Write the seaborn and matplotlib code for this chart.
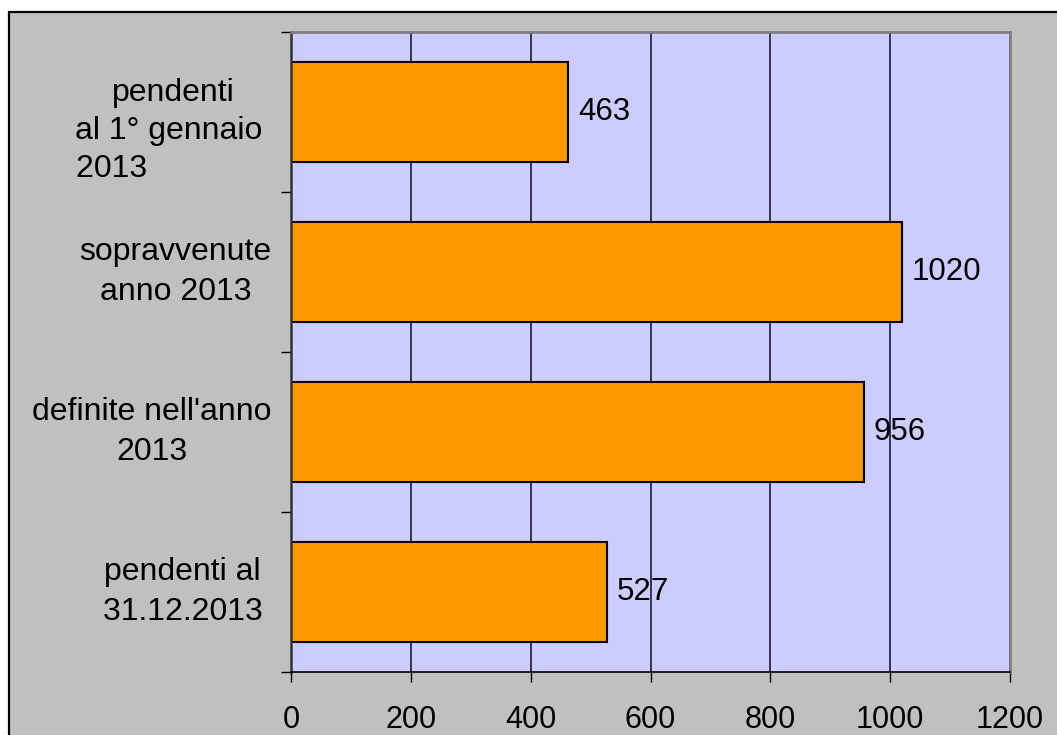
import matplotlib
matplotlib.use("Agg")
import matplotlib.pyplot as plt
from matplotlib.patches import Rectangle
from matplotlib.ticker import FixedLocator
import seaborn as sns
import pandas as pd

# Tick labels (line breaks and spaces set the wrapped layout of each label)
categories = [
    "\npendenti\nal 1° gennaio \n2013              ",
    "sopravvenute\nanno 2013",
    "definite nell'anno\n2013",
    "pendenti al \n31.12.2013 ",
]
values = [463, 1020, 956, 527]
x_ticks = [0, 200, 400, 600, 800, 1000, 1200]

sns.set_theme(style="ticks")
plt.rcParams["font.family"] = ["Liberation Sans", "DejaVu Sans"]

W, H = 1057, 735
fig = plt.figure(figsize=(W / 100, H / 100), dpi=100, facecolor="white")

# grey chart area with a black frame
frame = Rectangle((9 / W, -0.1), 1.2, 1 - 12 / H + 0.1, transform=fig.transFigure,
                  facecolor="#C0C0C0", edgecolor="black", linewidth=1.6, zorder=-10)
fig.patches.append(frame)

ax = fig.add_axes([291 / W, 1 - 672 / H, (1010 - 291) / W, (672 - 32) / H])
ax.set_facecolor("#CCCCFF")

df = pd.DataFrame({"categoria": categories, "valore": values})
sns.barplot(data=df, x="valore", y="categoria", orient="h", color="#FF9900",
            edgecolor="black", linewidth=1.5, width=0.625, saturation=1, ax=ax)

ax.set_xlim(x_ticks[0], x_ticks[-1])
ax.set_ylim(len(categories) - 0.5, -0.5)
ax.set_xlabel("")
ax.set_ylabel("")

# vertical gridlines behind the bars
ax.set_axisbelow(True)
ax.xaxis.grid(True, color="#1a1a2e", linewidth=1.2)
ax.yaxis.grid(False)

ax.set_xticks(x_ticks)
ax.set_xticklabels([str(t) for t in x_ticks])
ax.tick_params(axis="x", direction="out", length=7.5, width=1, color="black",
               labelsize=22, pad=16, labelcolor="black")

# category separators as minor ticks on the y axis
ax.yaxis.set_minor_locator(FixedLocator([i - 0.5 for i in range(len(categories) + 1)]))
ax.tick_params(axis="y", which="major", length=0, labelsize=23, pad=14, labelcolor="black")
ax.tick_params(axis="y", which="minor", direction="out", length=7.5, width=1, color="black")
for i, lbl in enumerate(ax.get_yticklabels()):
    lbl.set_multialignment("center")
    lbl.set_verticalalignment("center")
    lbl.set_linespacing(1.35 if i == 0 else 1.45)

for side in ["top", "right"]:
    ax.spines[side].set_color("#808080")
    ax.spines[side].set_linewidth(2)
ax.spines["left"].set_color("#333333")
ax.spines["left"].set_linewidth(1.8)
ax.spines["bottom"].set_color("black")
ax.spines["bottom"].set_linewidth(1.2)

ax.bar_label(ax.containers[0], labels=[str(v) for v in values], padding=7,
             fontsize=22.5, color="black")

fig.savefig("out.png", dpi=100, facecolor=fig.get_facecolor())
